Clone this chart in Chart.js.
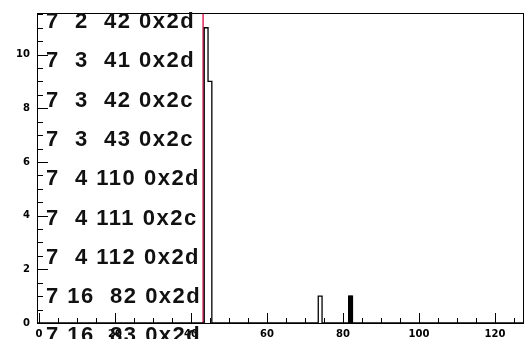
<!DOCTYPE html>
<html>
<head>
<meta charset="utf-8">
<script src="https://cdn.jsdelivr.net/npm/chart.js@4/dist/chart.umd.min.js"></script>
<style>
  html, body { margin: 0; padding: 0; background: #fff; }
</style>
</head>
<body>
<canvas id="hist" width="525" height="339"></canvas>
<script>
// --- Histogram data (bin low edges + content, outline drawn stepped) ---
const binLowEdges = [-0.5, 43.5, 44.5, 45.5, 73.5, 74.5, 81.5, 82.5, 127.5];
const binCounts   = [0, 11, 9, 0, 1, 0, 1, 0, 0];
// the bin at 82 shows up filled in the picture
const filledEdges  = [81.5, 82.5];
const filledCounts = [1, 0];
// red cut line
const cutValue = 43.2;

const xRange = [-0.5, 127.5];
const yRange = [0, 11.55];
const xTickValues = [0, 20, 40, 60, 80, 100, 120];
const yTickValues = [0, 2, 4, 6, 8, 10];

// overlay text rows
const hitRows = [
    "7  2  42 0x2d",
    "7  3  41 0x2d",
    "7  3  42 0x2c",
    "7  3  43 0x2c",
    "7  4 110 0x2d",
    "7  4 111 0x2c",
    "7  4 112 0x2d",
    "7 16  82 0x2d",
    "7 16  83 0x2d"
];

const toPoints = (xs, ys) => xs.map((x, i) => ({ x: x, y: ys[i] }));

// frame, inward ticks (ROOT style) and the text overlay
const rootFrame = {
    id: 'rootFrame',
    afterDatasetsDraw(chart) {
        const { ctx, chartArea: a, scales } = chart;
        const xs = scales.x, ys = scales.y;
        ctx.save();
        ctx.strokeStyle = '#000';
        ctx.lineWidth = 1;
        ctx.beginPath();
        // y ticks: major every 2, minor every 0.5
        for (let v = 0; v <= yRange[1]; v += 0.5) {
            const y = Math.round(ys.getPixelForValue(v)) + 0.5;
            const len = (v % 2 === 0) ? 11 : 6;
            ctx.moveTo(a.left, y);
            ctx.lineTo(a.left + len, y);
        }
        // x ticks: major every 20, minor every 5
        for (let v = 0; v <= xRange[1]; v += 5) {
            const x = Math.round(xs.getPixelForValue(v)) + 0.5;
            const len = (v % 20 === 0) ? 10 : 5;
            ctx.moveTo(x, a.bottom);
            ctx.lineTo(x, a.bottom - len);
        }
        ctx.stroke();
        ctx.strokeRect(Math.round(a.left) + 0.5, Math.round(a.top) + 0.5,
                       Math.round(a.right - a.left) - 1, Math.round(a.bottom - a.top));
        ctx.restore();
    },
    afterDraw(chart) {
        const ctx = chart.ctx;
        ctx.save();
        ctx.font = 'bold 22px Arial, "Liberation Sans", sans-serif';
        ctx.letterSpacing = '1.5px';
        ctx.fillStyle = '#111';
        ctx.textBaseline = 'alphabetic';
        hitRows.forEach((txt, i) => {
            ctx.fillText(txt, 46, 28 + 39.3 * i);
        });
        ctx.restore();
    }
};

const tickFont = { family: '"DejaVu Sans", sans-serif', size: 10, weight: 'bold' };

new Chart(document.getElementById('hist'), {
    type: 'line',
    data: {
        datasets: [
            {
                data: toPoints(binLowEdges, binCounts),
                stepped: true,
                borderColor: '#000',
                borderWidth: 1.3,
                pointRadius: 0,
                fill: false
            },
            {
                data: toPoints(filledEdges, filledCounts),
                stepped: true,
                borderColor: '#000',
                backgroundColor: '#000',
                borderWidth: 1,
                pointRadius: 0,
                fill: 'origin'
            },
            {
                data: [{ x: cutValue, y: yRange[0] }, { x: cutValue, y: yRange[1] }],
                borderColor: '#e2245c',
                borderWidth: 1.5,
                pointRadius: 0,
                fill: false
            }
        ]
    },
    options: {
        responsive: false,
        animation: false,
        devicePixelRatio: 1,
        layout: { padding: { left: 0, top: 10, right: 1.5, bottom: 0 } },
        plugins: { legend: { display: false }, tooltip: { enabled: false } },
        scales: {
            x: {
                type: 'linear',
                min: xRange[0],
                max: xRange[1],
                grid: { display: false, drawTicks: false },
                border: { display: false },
                ticks: { font: tickFont, color: '#000', padding: 5, maxRotation: 0, autoSkip: false },
                afterBuildTicks: s => { s.ticks = xTickValues.map(v => ({ value: v })); },
                afterFit: s => { s.height = 16; }
            },
            y: {
                type: 'linear',
                min: yRange[0],
                max: yRange[1],
                grid: { display: false, drawTicks: false },
                border: { display: false },
                ticks: { font: tickFont, color: '#000', padding: 7, autoSkip: false },
                afterBuildTicks: s => { s.ticks = yTickValues.map(v => ({ value: v })); },
                afterFit: s => { s.width = 37; }
            }
        }
    },
    plugins: [rootFrame]
});
</script>
</body>
</html>
